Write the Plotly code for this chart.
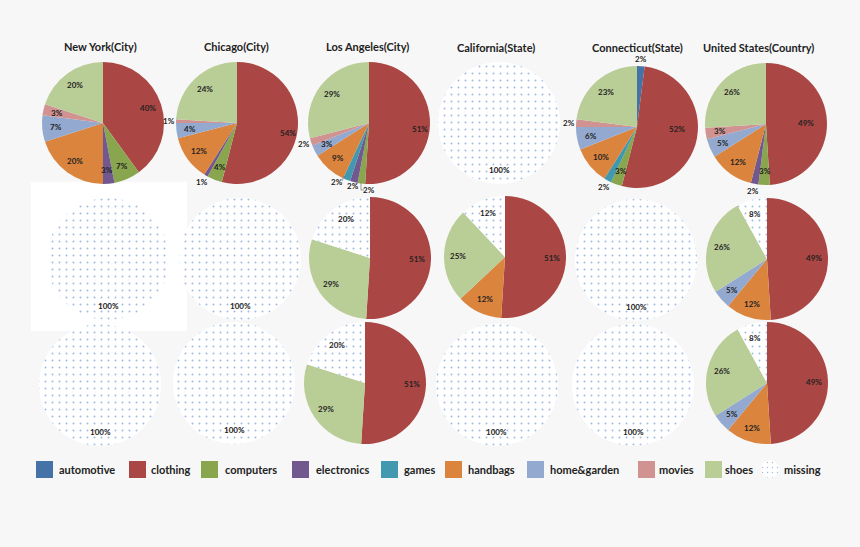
import math

import plotly.graph_objects as go

W, H = 860, 547

categories = ["automotive", "clothing", "computers", "electronics", "games",
              "handbags", "home&garden", "movies", "shoes", "missing"]
colors = ["#4572A7", "#AA4643", "#89A54E", "#71588F", "#4198AF",
          "#DB843D", "#93A9CF", "#D19392", "#B9CD96", "#FFFFFF"]
titles = ["New York(City)", "Chicago(City)", "Los Angeles(City)",
          "California(State)", "Connecticut(State)", "United States(Country)"]

# one value per category, in the order above
new_york = [0, 40, 7, 3, 0, 20, 7, 3, 20, 0]
chicago = [0, 54, 4, 1, 0, 12, 4, 1, 24, 0]
los_angeles = [0, 51, 2, 2, 2, 9, 3, 2, 29, 0]
connecticut = [2, 52, 3, 0, 2, 10, 6, 2, 23, 0]
united_states = [0, 49, 3, 2, 0, 12, 5, 3, 26, 0]
la_row2 = [0, 51, 0, 0, 0, 0, 0, 0, 29, 20]
california_row2 = [0, 51, 0, 0, 0, 12, 0, 0, 25, 12]
us_row2 = [0, 49, 0, 0, 0, 12, 5, 0, 26, 8]
la_row3 = [0, 51, 0, 0, 0, 0, 0, 0, 29, 20]
us_row3 = [0, 49, 0, 0, 0, 12, 5, 0, 26, 8]
all_missing = [0, 0, 0, 0, 0, 0, 0, 0, 0, 100]

pies = [
    new_york, chicago, los_angeles, all_missing, connecticut, united_states,
    all_missing, all_missing, la_row2, california_row2, all_missing, us_row2,
    all_missing, all_missing, la_row3, all_missing, all_missing, us_row3,
]

# pie centres in pixels
centers = [
    (103, 123), (237, 123), (369, 123), (499, 123), (637, 127), (766, 124),
    (108, 259), (240, 259), (370, 258), (505, 257), (636, 260), (767, 259),
    (100, 385), (234, 383), (365, 383), (497, 385), (633, 385), (767, 383),
]
radius = 61
title_pos = [(100, 46), (236, 46), (367, 47), (496, 48), (637, 48), (758, 48)]
legend_x = [36, 129, 201, 292, 381, 445, 527, 638, 705, 762]
legend_text_x = [57, 149, 223, 314, 402, 466, 548, 657, 723, 782]

# labels that Excel moved away from the mid angle
nudges = {
    (1, "clothing"): (4, 4),
    (2, "clothing"): (4, 5),
    (2, "games"): (-7, -5),
    (2, "electronics"): (1, -3),
    (2, "computers"): (9, -1),
    (4, "clothing"): (-6, -7),
    (5, "clothing"): (-7, 0),
    (8, "missing"): (4, -1),
}


def px(x):
    return x / W


def py(y):
    return 1 - y / H


def pie_trace(values, cx, cy, r, dot_size=7):
    labels = [c for c, v in zip(categories, values) if v]
    vals = [v for v in values if v]
    cols = [colors[categories.index(c)] for c in labels]
    shapes = ["." if c == "missing" else "" for c in labels]
    return go.Pie(
        labels=labels,
        values=vals,
        sort=False,
        direction="clockwise",
        rotation=0,
        textinfo="none",
        showlegend=False,
        domain=dict(x=[px(cx - r), px(cx + r)], y=[py(cy + r), py(cy - r)]),
        marker=dict(
            colors=cols,
            line=dict(width=0),
            pattern=dict(shape=shapes, fgcolor="#9DBBE2", bgcolor=cols,
                         size=dot_size, solidity=0.06),
        ),
    )


fig = go.Figure()
annotations = []
shapes = []

# white box behind the first pie of row 2
shapes.append(dict(type="rect", xref="paper", yref="paper", layer="below",
                   x0=px(31), x1=px(187), y0=py(331), y1=py(182),
                   fillcolor="white", line=dict(width=0)))

for i, (values, (cx, cy)) in enumerate(zip(pies, centers)):
    fig.add_trace(pie_trace(values, cx, cy, radius))
    # percent labels sit on the slice's mid angle
    running = 0
    for cat, v in zip(categories, values):
        if not v:
            continue
        angle = (running + v / 2) / 100 * 2 * math.pi
        running += v
        k = 1.12 if v <= 2 else 0.77
        dx, dy = nudges.get((i, cat), (0, 0))
        annotations.append(dict(
            x=px(cx + k * radius * math.sin(angle) + dx),
            y=py(cy - k * radius * math.cos(angle) + dy),
            text=f"{v}%", showarrow=False, xanchor="center", yanchor="middle",
            font=dict(family="Lato", size=8, color="#222222", weight="bold"),
        ))

for name, (x, y) in zip(titles, title_pos):
    annotations.append(dict(x=px(x), y=py(y), text=name, showarrow=False,
                            xanchor="center", yanchor="middle",
                            font=dict(family="Lato", size=11, color="#222222", weight="bold")))

# leader lines on the Los Angeles pie
for path in [[(342, 181), (344, 176)], [(356, 183), (356, 185)], [(361, 182), (361, 190), (364, 190)]]:
    d = "M" + " L".join(f"{px(a)},{py(b)}" for a, b in path)
    shapes.append(dict(type="path", path=d, xref="paper", yref="paper",
                       line=dict(color="#777777", width=0.7)))

# legend drawn by hand, the original's spacing is uneven
for cat, col, x0, tx in zip(categories, colors, legend_x, legend_text_x):
    if cat == "missing":
        swatch = [0] * 9 + [100]
        fig.add_trace(pie_trace(swatch, x0 + 8, 469, 9, dot_size=5))
    else:
        shapes.append(dict(type="rect", xref="paper", yref="paper",
                           x0=px(x0), x1=px(x0 + 17), y0=py(478), y1=py(461),
                           fillcolor=col, line=dict(width=0)))
    annotations.append(dict(x=px(tx), y=py(469.5), text=cat, showarrow=False,
                            xanchor="left", yanchor="middle",
                            font=dict(family="Lato", size=11, color="#222222", weight="bold")))

fig.update_layout(
    width=W,
    height=H,
    margin=dict(l=0, r=0, t=0, b=0),
    paper_bgcolor="#F7F7F7",
    plot_bgcolor="#F7F7F7",
    annotations=annotations,
    shapes=shapes,
)

fig.write_html("out.html", config=dict(displayModeBar=False),
               post_script="document.body.style.margin='0';")
